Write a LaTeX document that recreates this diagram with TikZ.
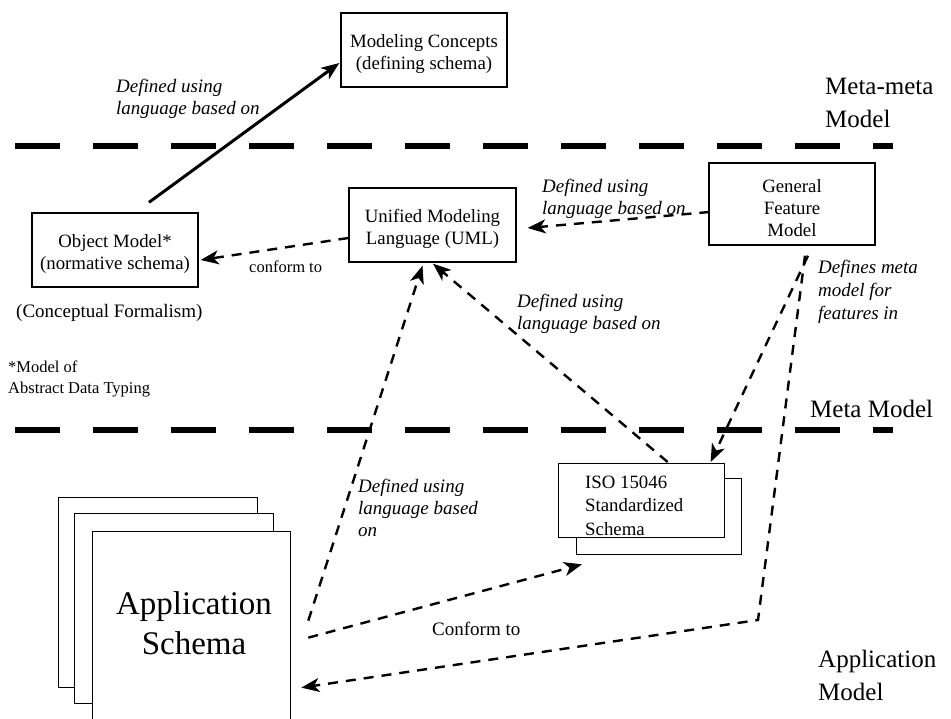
\documentclass[tikz,border=0pt]{standalone}
\usepackage{fontspec}
\setmainfont{Liberation Serif}
\usetikzlibrary{arrows.meta,calc}

% taller first line pushes the box text slightly below the box centre
\newcommand{\lowfirst}{\rule{0pt}{21pt}}

\begin{document}
\begin{tikzpicture}[x=1pt,y=-1pt,
  box/.style={draw, line width=1.3pt, fill=white, minimum width=166pt, minimum height=74pt,
    inner sep=0pt, align=center, font=\fontsize{18.8}{22.5}\selectfont},
  plainbox/.style={draw, line width=1.3pt, fill=white, inner sep=0pt},
  lbl/.style={font=\fontsize{19}{22}\selectfont\itshape, align=left, inner sep=0pt, anchor=base west},
  note/.style={font=\fontsize{16.5}{21}\selectfont, align=left, inner sep=0pt, anchor=base west},
  level/.style={font=\fontsize{25}{33}\selectfont, align=left, inner sep=0pt, anchor=base west},
  layersep/.style={line width=5.5pt, dash pattern=on 45pt off 33pt},
  tip/.style={-{Stealth[length=18pt,width=14pt,inset=5pt]}},
  link/.style={tip, line width=2.4pt, dash pattern=on 10pt off 8pt},
  solidlink/.style={tip, line width=3pt}]

\useasboundingbox (0,0) rectangle (951,718);

% layer separators
\draw[layersep] (15,146) -- (893,146);
\draw[layersep] (15,430) -- (893,430);

% layer names (anchored at the baseline of the last line)
\node[level] (lmm) at (825,127) {Meta-meta\\Model};
\node[level] (lm) at (810,417) {Meta Model};
\node[level] (lam) at (818,700) {Application\\Model};

% model boxes
\node[box] (mc) at (424,50) {\lowfirst Modeling Concepts\\(defining schema)};
\node[box] (om) at (115,250) {\lowfirst Object Model*\\(normative schema)};
\node[box, minimum width=167pt] (uml) at (432.5,225) {\lowfirst Unified Modeling\\Language (UML)};
\node[box, minimum height=82pt, font=\fontsize{18.8}{22}\selectfont] (gfm) at (792,204) {\lowfirst General\\Feature\\Model};

% ISO standardized schema (stacked sheets)
\node[plainbox, minimum width=165pt, minimum height=76pt, anchor=north west] (isoback) at (576,478) {};
\node[plainbox, minimum width=166pt, minimum height=74pt, anchor=north west] (iso) at (558,463) {};
\node[font=\fontsize{18.8}{23.5}\selectfont, align=left, inner sep=0pt, anchor=base west] (isotext) at (585,535) {ISO 15046\\Standardized\\Schema};

% application schema (stacked sheets)
\node[plainbox, minimum width=199pt, minimum height=190pt, anchor=north west] (appback) at (58,497) {};
\node[plainbox, minimum width=199pt, minimum height=190pt, anchor=north west] (appmid) at (74,513) {};
\node[plainbox, minimum width=198pt, minimum height=190pt, anchor=north west] (app) at (92,531) {};
\node[font=\fontsize{33}{40}\selectfont, align=center, inner sep=0pt] (apptext) at (194,623) {Application\\Schema};

% side notes
\node[font=\fontsize{19}{22}\selectfont, inner sep=0pt, anchor=base west] (cf) at (16,317) {(Conceptual Formalism)};
\node[note] (adt) at (8,393) {*Model of\\Abstract Data Typing};

% connectors
\draw[solidlink] ($(om.north)+(34,-10)$) -- ($(mc.west)+(-1,13)$);
\draw[link] ($(gfm.west)+(1,8)$) -- ($(uml.east)+(11,3)$);
\draw[link] ($(uml.west)+(0,13)$) -- ($(om.east)+(2,10)$);
\draw[link] ($(app.east)+(17,-6)$) -- ($(uml.south)+(-10,3)$);
\draw[link] ($(iso.north)+(26,-1)$) -- ($(uml.south)+(0.5,1)$);
\draw[link] ($(gfm.south)+(16,10)$) -- ($(iso.north)+(69,-1)$);
\coordinate (bend) at (758,620);
\draw[link] ($(gfm.south)+(13,10)$) -- (bend) -- ($(app.east)+(10,61)$);
\draw[link] ($(app.east)+(17,11)$) -- ($(isoback.south west)+(6,9)$);

% connector labels (anchored at the baseline of the last line)
\node[lbl] (l1) at (116,114) {Defined using\\language based on};
\node[lbl] (l2) at (542,214) {Defined using\\language based on};
\node[note] (l3) at (249,272) {conform to};
\node[lbl] (l4) at (358,536) {Defined using\\language based\\on};
\node[lbl] (l5) at (517,329) {Defined using\\language based on};
\node[lbl, font=\fontsize{19}{23}\selectfont\itshape] (l6) at (818,319) {Defines meta\\model for\\features in};
\node[font=\fontsize{19}{22}\selectfont, inner sep=0pt, anchor=base west] (l7) at (432,635) {Conform to};

\end{tikzpicture}
\end{document}
